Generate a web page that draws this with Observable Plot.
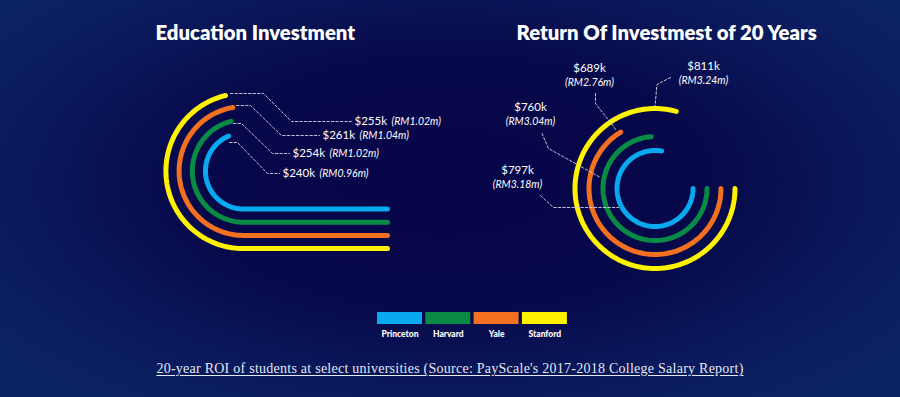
<!DOCTYPE html>
<html><head><meta charset="utf-8">
<script src="https://cdn.jsdelivr.net/npm/d3@7"></script>
<script src="https://cdn.jsdelivr.net/npm/@observablehq/plot@0.6"></script>
<style>
html,body{margin:0;padding:0;background:#0a1f62;}
#wrap{position:relative;width:900px;height:397px;overflow:hidden;
  background:radial-gradient(ellipse 62% 68% at 50% 46%, #06054a 0%, #070849 45%, #0a1a5c 78%, #0b2264 100%);}
#chart svg{display:block}
#caption{position:absolute;left:0;width:900px;top:361px;text-align:center;
  font-family:"Liberation Serif","Times New Roman",serif;font-size:14px;letter-spacing:0.25px;color:#e4e6f0;
  text-decoration:underline;text-underline-offset:2px;white-space:nowrap;}
</style></head>
<body><div id="wrap"><div id="chart"></div><div id="caption"></div></div>
<script>
// ---------- data ----------
const universities = ["Princeton", "Harvard", "Yale", "Stanford"];
const costUSDk = [240, 254, 261, 255];          // education investment, $k
const costRMm  = [0.96, 1.02, 1.04, 1.02];      // education investment, RM m
const roiUSDk  = [797, 760, 689, 811];          // 20-year ROI, $k
const roiRMm   = [3.18, 3.04, 2.76, 3.24];      // 20-year ROI, RM m
const titles   = ["Education Investment", "Return Of Investmest of 20 Years"];
const captionText = "20-year ROI of students at select universities (Source: PayScale's 2017-2018 College Salary Report)";

// ---------- style ----------
const palette = ["#08a9ef", "#098b45", "#f2701f", "#fff200"];
const fontSans = "Lato, 'Open Sans', sans-serif";

// ---------- layout / geometry ----------
const rad = Math.PI / 180;
const LEFT = {cx: 243, cy: 170.5, r0: 38, dr: 13.2, xEnd: 387};
const RIGHT = {cx: 654.5, cy: 188, r0: 38, dr: 14};
const gapScale = d3.scaleLinear([240, 261], [23, 9.5]);        // value -> gap from top (deg)
const sweepScale = d3.scaleLinear([689, 811], [238.7, 285.4]); // value -> sweep (deg)

const arcs = [];
universities.forEach((name, i) => {
  // left: arc from near the top, counter-clockwise to the bottom, then a straight run
  const r = LEFT.r0 + LEFT.dr * i;
  const g = gapScale(costUSDk[i]);
  const angs = d3.range(g, 180, 2).concat([180]);
  for (const a of angs) arcs.push({name, side: "L", x: LEFT.cx - r * Math.sin(a * rad), y: LEFT.cy - r * Math.cos(a * rad)});
  arcs.push({name, side: "L", x: LEFT.xEnd, y: LEFT.cy + r});
  // right: ring from east, clockwise by sweep
  const rr = RIGHT.r0 + RIGHT.dr * i;
  const s = sweepScale(roiUSDk[i]);
  const angs2 = d3.range(0, s, 2).concat([s]);
  for (const a of angs2) arcs.push({name, side: "R", x: RIGHT.cx + rr * Math.cos(a * rad), y: RIGHT.cy + rr * Math.sin(a * rad)});
});

// annotation layout (leader polylines and label anchors), per university in order
const leftLeaders = [
  [[229,142],[237,142],[267,173],[279,173]],
  [[233,123],[241,123],[272,153],[289,153]],
  [[236,105],[250,105],[281,135],[319,135]],
  [[230,93],[263,93],[291,121],[351,121]]
];
const leftLabelPos = [[282,173],[292,153],[322,135],[354,121]];
const rightLeaders = [
  [[540,195],[553,207],[618,207]],
  [[541.5,133],[548,148],[600,177]],
  [[595,93],[595,103],[616,130]],
  [[670,77],[656.5,84],[654.5,106]]
];
const rightLabelPos = [[517,184],[530,121],[589,82],[703,80]];

const leaders = [];
universities.forEach((name, i) => {
  leftLeaders[i].forEach(([x, y]) => leaders.push({id: "L" + i, x, y}));
  rightLeaders[i].forEach(([x, y]) => leaders.push({id: "R" + i, x, y}));
});

const leftValueLabels = universities.map((u, i) => ({x: leftLabelPos[i][0], y: leftLabelPos[i][1], t: `$${costUSDk[i]}k`}));
const leftRmLabels = universities.map((u, i) => ({x: leftLabelPos[i][0] + 37, y: leftLabelPos[i][1], t: `(RM${costRMm[i].toFixed(2)}m)`}));
const rightValueLabels = universities.map((u, i) => ({x: rightLabelPos[i][0], y: rightLabelPos[i][1] - 14, t: `$${roiUSDk[i]}k`}));
const rightRmLabels = universities.map((u, i) => ({x: rightLabelPos[i][0], y: rightLabelPos[i][1], t: `(RM${roiRMm[i].toFixed(2)}m)`}));

const legend = universities.map((name, i) => ({name, x1: 377 + i * 48.3, x2: 377 + i * 48.3 + 45}));

const chart = Plot.plot({
  width: 900, height: 397, margin: 0,
  x: {domain: [0, 900], range: [0, 900], axis: null},
  y: {domain: [0, 397], range: [0, 397], axis: null},
  color: {domain: universities, range: palette},
  style: {background: "transparent", overflow: "visible"},
  marks: [
    Plot.text(titles, {x: (d, i) => i === 0 ? 155 : 516, y: 33, text: d => d, textAnchor: "start",
      fill: "white", fontSize: 20.3, fontWeight: 800, fontFamily: fontSans}),
    Plot.line(arcs, {x: "x", y: "y", z: d => d.name + d.side, stroke: "name", strokeWidth: 5, strokeLinecap: "round", curve: "linear"}),
    Plot.line(leaders, {x: "x", y: "y", z: "id", stroke: "#d2d4e4", strokeWidth: 1, strokeDasharray: "2.5,2", strokeOpacity: 0.9}),
    Plot.text(leftValueLabels, {x: "x", y: "y", text: "t", textAnchor: "start", fill: "white", fontSize: 11.5, fontFamily: fontSans}),
    Plot.text(leftRmLabels, {x: "x", y: "y", text: "t", textAnchor: "start", fill: "white", fontSize: 10.5, fontStyle: "italic", fontFamily: fontSans}),
    Plot.text(rightValueLabels, {x: "x", y: "y", text: "t", textAnchor: "middle", fill: "white", fontSize: 11.5, fontFamily: fontSans}),
    Plot.text(rightRmLabels, {x: "x", y: "y", text: "t", textAnchor: "middle", fill: "white", fontSize: 10.5, fontStyle: "italic", fontFamily: fontSans}),
    Plot.rect(legend, {x1: "x1", x2: "x2", y1: 312, y2: 324, fill: "name"}),
    Plot.text(legend, {x: d => (d.x1 + d.x2) / 2, y: 333.5, text: "name", fill: "white", fontSize: 8.5, fontWeight: 900, fontFamily: fontSans})
  ]
});
document.getElementById("chart").appendChild(chart);
document.getElementById("caption").textContent = captionText;
</script>
</body></html>
